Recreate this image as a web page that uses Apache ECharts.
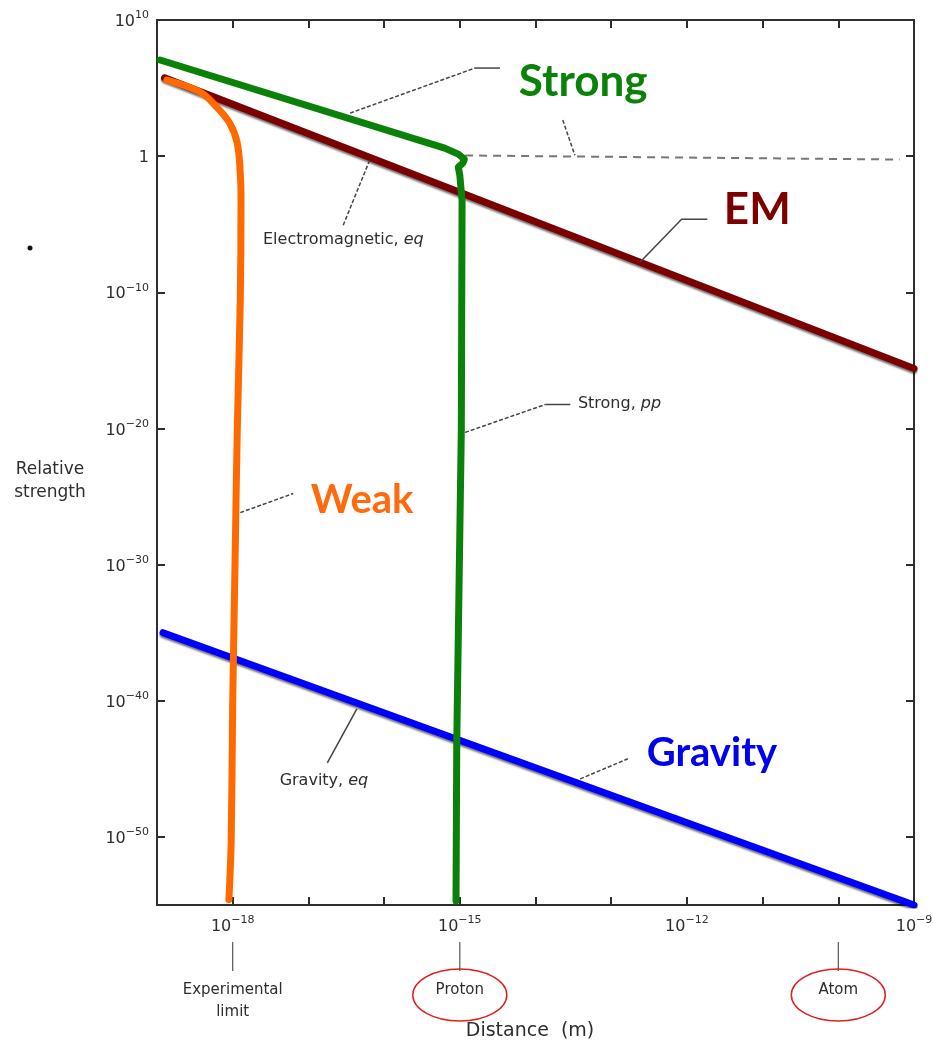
<!DOCTYPE html>
<html>
<head>
<meta charset="utf-8">
<title>Relative strength of the forces</title>
<script src="https://cdn.jsdelivr.net/npm/echarts@6/dist/echarts.min.js"></script>
<style>
  html, body { margin: 0; padding: 0; background: #fff; }
  #chart { width: 933px; height: 1042px; }
</style>
</head>
<body>
<div id="chart"></div>
<script>
// all values are log10: x = log10(distance in m), y = log10(relative strength)
var xLabelExps = [-18, -15, -12, -9];
var yLabelExps = [-50, -40, -30, -20, -10, 0, 10];

var emX = [-18.9, -9.0];
var emY = [5.75, -15.6];

var gravityX = [-18.92, -9.0];
var gravityY = [-35.0, -55.0];

var weakX = [-18.87, -18.43, -18.21, -18.04, -17.94, -17.90, -17.89, -17.90, -17.94, -17.97, -18.0, -18.02, -18.05];
var weakY = [5.59, 4.71, 3.60, 2.43, 0.96, -1.25, -3.24, -10.6, -20.2, -30.2, -40.2, -50.3, -54.6];

var strongX = [-18.96, -15.20, -15.02, -14.94, -14.96, -15.02, -15.0, -14.97, -14.98, -15.04, -15.05];
var strongY = [7.06, 0.59, 0.15, -0.22, -0.51, -0.81, -1.40, -3.24, -20.15, -42.94, -54.71];

// dashed continuation of the strong force at ~1
var strongFlatX = [-14.93, -9.19];
var strongFlatY = [0.05, -0.25];

var FONT = 'DejaVu Sans';
var INK = '#2e2e2e';

function pairs(xs, ys) {
    var out = [];
    for (var i = 0; i < xs.length; i++) {
        out.push([xs[i], ys[i]]);
    }
    return out;
}

function powLabel(v) {
    if (v === 0) return '{b|1}';
    return '{b|10}{s|' + (v < 0 ? '\u2212' : '') + Math.abs(v) + '}';
}

var labelRich = {
    b: { fontSize: 16, fontFamily: FONT, color: INK, lineHeight: 20, verticalAlign: 'bottom' },
    s: { fontSize: 11, fontFamily: FONT, color: INK, lineHeight: 12, verticalAlign: 'top' }
};

var frameLine = { show: true, onZero: false, lineStyle: { color: INK, width: 2 } };
var tickIn = { show: true, inside: true, length: 8, lineStyle: { color: INK, width: 2 } };

function lineSeries(name, xs, ys, lineStyle, extra) {
    var s = {
        name: name,
        type: 'line',
        data: pairs(xs, ys),
        showSymbol: false,
        symbol: 'none',
        smooth: false,
        lineStyle: lineStyle,
        silent: true
    };
    for (var k in extra) s[k] = extra[k];
    return s;
}

function thick(color, shadow) {
    var st = { color: color, width: 7, cap: 'round', join: 'round' };
    if (shadow) {
        st.shadowColor = 'rgba(0,0,0,0.55)';
        st.shadowBlur = 2;
        st.shadowOffsetY = 2;
    }
    return st;
}

var chart = echarts.init(document.getElementById('chart'));

var option = {
    animation: false,
    backgroundColor: '#fff',
    grid: { left: 157, right: 19, top: 20, bottom: 137, outerBoundsMode: 'none', containLabel: false },
    xAxis: [{
        type: 'value', min: -19, max: -9, interval: 1, position: 'bottom',
        axisLine: frameLine, axisTick: tickIn, splitLine: { show: false },
        axisLabel: {
            margin: 10,
            rich: labelRich,
            formatter: function (v) {
                return xLabelExps.indexOf(v) < 0 ? '' : powLabel(v);
            }
        }
    }, {
        type: 'value', min: -19, max: -9, interval: 1, position: 'top',
        axisLine: frameLine, axisTick: tickIn, splitLine: { show: false },
        axisLabel: { show: false }
    }],
    yAxis: [{
        type: 'value', min: -55, max: 10, position: 'left',
        axisLine: frameLine,
        axisTick: { show: true, inside: true, length: 8, lineStyle: { color: INK, width: 2 }, customValues: yLabelExps },
        splitLine: { show: false },
        axisLabel: { margin: 8, rich: labelRich, customValues: yLabelExps, formatter: powLabel }
    }, {
        type: 'value', min: -55, max: 10, position: 'right',
        axisLine: frameLine,
        axisTick: { show: true, inside: true, length: 8, lineStyle: { color: INK, width: 2 }, customValues: yLabelExps },
        splitLine: { show: false },
        axisLabel: { show: false }
    }],
    series: [
        lineSeries('Strong (flat)', strongFlatX, strongFlatY, { color: '#777', width: 2, type: [8, 6] }),
        lineSeries('EM', emX, emY, thick('#7b0000', true)),
        lineSeries('Gravity', gravityX, gravityY, thick('#0000ff', true)),
        lineSeries('Weak', weakX, weakY, thick('#ff6a00', false), { smooth: 0.35 }),
        lineSeries('Strong', strongX, strongY, thick('#0a820a', false))
    ]
};

chart.setOption(option);

// annotations, placed in data space (log10 units)
var bigNotes = [
    { text: 'Strong', at: [-13.37, 5.44], color: '#0a820a', size: 44 },
    { text: 'EM', at: [-11.07, -3.97], color: '#7b0000', size: 44 },
    { text: 'Weak', at: [-16.29, -25.29], color: '#ff6a0d', size: 40 },
    { text: 'Gravity', at: [-11.67, -43.82], color: '#0000ee', size: 40 }
];

var smallNotes = [
    { rich: 'Electromagnetic, {i|eq}', at: [-17.60, -6.18] },
    { rich: 'Strong, {i|pp}', at: [-13.44, -18.16] },
    { rich: 'Gravity, {i|eq}', at: [-17.38, -45.88] }
];

var leaders = [
    { pts: [[-16.45, 3.16], [-14.80, 6.47]], dash: true },
    { pts: [[-14.80, 6.47], [-14.47, 6.47]], dash: false },
    { pts: [[-13.64, 2.65], [-13.48, 0.07]], dash: true },
    { pts: [[-12.62, -7.79], [-12.07, -4.63], [-11.73, -4.63]], dash: false },
    { pts: [[-16.54, -5.07], [-16.19, -0.29]], dash: true },
    { pts: [[-14.93, -20.29], [-13.87, -18.24]], dash: true },
    { pts: [[-13.87, -18.24], [-13.54, -18.24]], dash: false },
    { pts: [[-17.90, -26.18], [-17.20, -24.78]], dash: true },
    { pts: [[-13.41, -45.74], [-12.78, -44.26]], dash: true },
    { pts: [[-16.75, -44.56], [-16.36, -40.59]], dash: false }
];

// marks below the distance axis
var scaleMarks = [
    { x: -18, lines: ['Experimental', 'limit'], circled: false },
    { x: -15, lines: ['Proton'], circled: true },
    { x: -10, lines: ['Atom'], circled: true }
];

function P(x, y) {
    return chart.convertToPixel({ xAxisIndex: 0, yAxisIndex: 0 }, [x, y]);
}

var g = [];
bigNotes.forEach(function (n) {
    var p = P(n.at[0], n.at[1]);
    g.push({
        type: 'text', x: p[0], y: p[1], z: 10,
        style: { text: n.text, fill: n.color, fontSize: n.size, fontWeight: 'bold', fontFamily: 'Lato', align: 'center', verticalAlign: 'middle' }
    });
});
smallNotes.forEach(function (n) {
    var p = P(n.at[0], n.at[1]);
    g.push({
        type: 'text', x: p[0], y: p[1], z: 10,
        style: {
            text: n.rich, fill: INK, fontSize: 16, fontFamily: FONT, align: 'left', verticalAlign: 'middle',
            rich: { i: { fontSize: 16, fontFamily: FONT, fontStyle: 'italic', fill: INK } }
        }
    });
});
leaders.forEach(function (l) {
    g.push({
        type: 'polyline', z: 9,
        shape: { points: l.pts.map(function (q) { return P(q[0], q[1]); }) },
        style: { stroke: '#444', lineWidth: 1.5, fill: null, lineDash: l.dash ? [4, 2] : null }
    });
});

var axisBottom = P(-19, -55)[1];
scaleMarks.forEach(function (m) {
    var px = P(m.x, -55)[0];
    g.push({
        type: 'line', shape: { x1: px, y1: axisBottom + 37, x2: px, y2: axisBottom + 66 },
        style: { stroke: '#555', lineWidth: 1.2 }
    });
    m.lines.forEach(function (t, i) {
        g.push({
            type: 'text', x: px, y: axisBottom + 85 + i * 22,
            style: { text: t, fill: INK, fontSize: 15, fontFamily: FONT, align: 'center', verticalAlign: 'middle' }
        });
    });
    if (m.circled) {
        g.push({
            type: 'ellipse', shape: { cx: px, cy: axisBottom + 90, rx: 47, ry: 26 },
            style: { stroke: '#e02020', lineWidth: 1.5, fill: null }
        });
    }
});

// axis titles
g.push({
    type: 'text', x: 530, y: axisBottom + 126,
    style: { text: 'Distance  (m)', fill: INK, fontSize: 19, fontFamily: FONT, align: 'center', verticalAlign: 'middle' }
});
g.push({
    type: 'text', x: 50, y: P(-19, -23.9)[1],
    style: { text: 'Relative\nstrength', fill: INK, fontSize: 17, lineHeight: 23, fontFamily: FONT, align: 'center', verticalAlign: 'middle' }
});
// stray speck on the scan
g.push({ type: 'circle', shape: { cx: 30, cy: 248, r: 2.5 }, style: { fill: '#111' } });

chart.setOption({ graphic: g });
</script>
</body>
</html>
